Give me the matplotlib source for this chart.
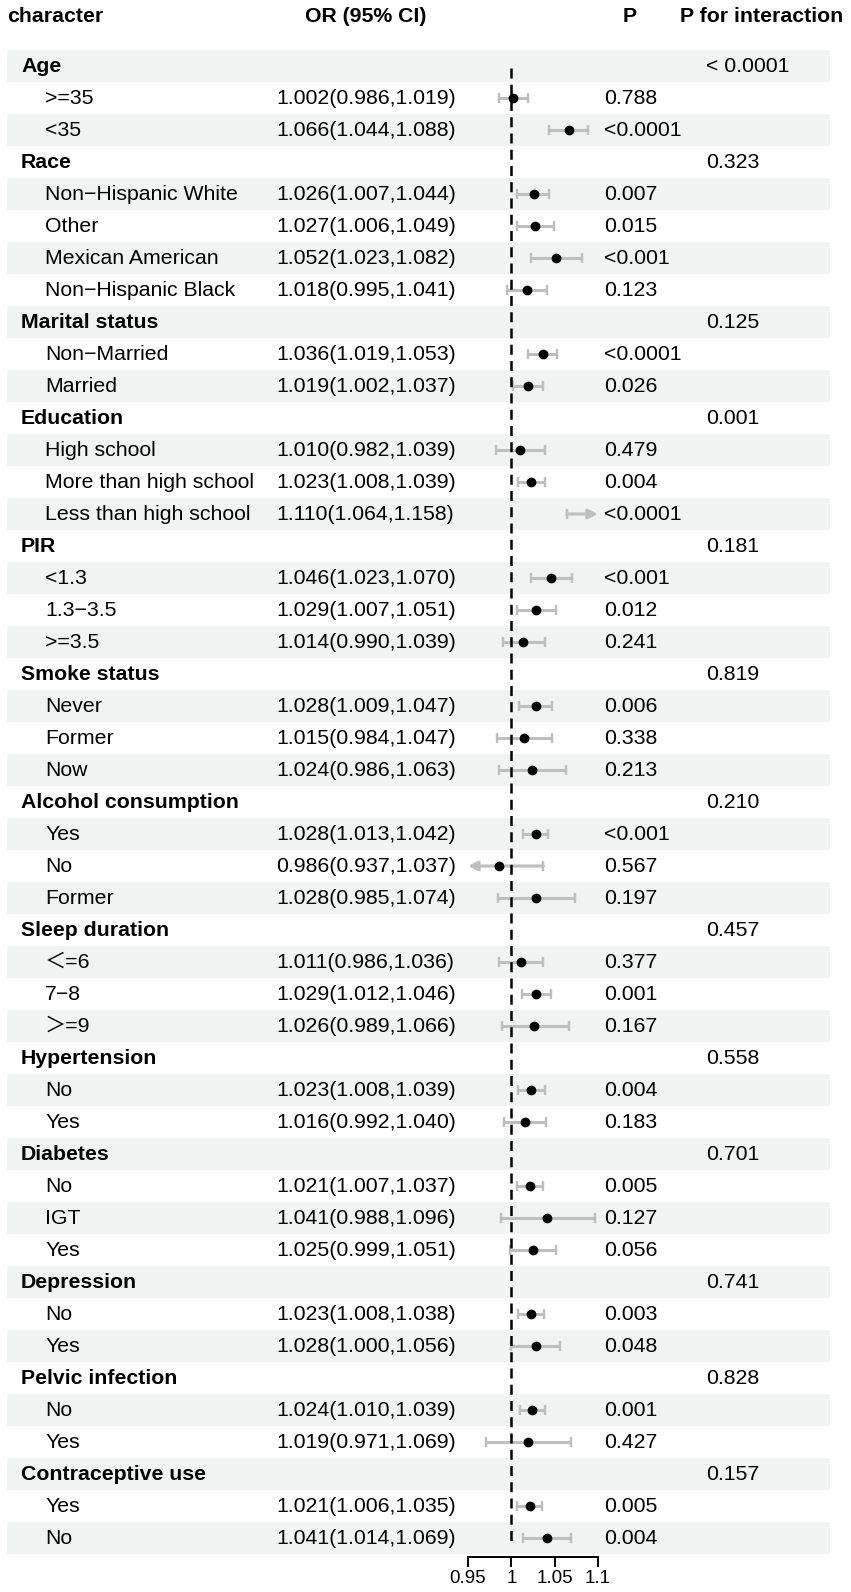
import numpy as np
import matplotlib
matplotlib.use("Agg")
import matplotlib.pyplot as plt
from matplotlib.patches import Rectangle
from matplotlib.transforms import blended_transform_factory

plt.rcParams['font.family'] = ['Liberation Sans', 'Noto Sans CJK SC', 'DejaVu Sans']
plt.rcParams['axes.unicode_minus'] = True

nan = np.nan

# --- data (one entry per table row, group rows have no estimate) ---
row_labels = ["Age", ">=35", "<35",
              "Race", "Non−Hispanic White", "Other", "Mexican American", "Non−Hispanic Black",
              "Marital status", "Non−Married", "Married",
              "Education", "High school", "More than high school", "Less than high school",
              "PIR", "<1.3", "1.3−3.5", ">=3.5",
              "Smoke status", "Never", "Former", "Now",
              "Alcohol consumption", "Yes", "No", "Former",
              "Sleep duration", "＜=6", "7−8", "＞=9",
              "Hypertension", "No", "Yes",
              "Diabetes", "No", "IGT", "Yes",
              "Depression", "No", "Yes",
              "Pelvic infection", "No", "Yes",
              "Contraceptive use", "Yes", "No"]

or_est = [nan, 1.002, 1.066,
          nan, 1.026, 1.027, 1.052, 1.018,
          nan, 1.036, 1.019,
          nan, 1.010, 1.023, 1.110,
          nan, 1.046, 1.029, 1.014,
          nan, 1.028, 1.015, 1.024,
          nan, 1.028, 0.986, 1.028,
          nan, 1.011, 1.029, 1.026,
          nan, 1.023, 1.016,
          nan, 1.021, 1.041, 1.025,
          nan, 1.023, 1.028,
          nan, 1.024, 1.019,
          nan, 1.021, 1.041]

ci_low = [nan, 0.986, 1.044,
          nan, 1.007, 1.006, 1.023, 0.995,
          nan, 1.019, 1.002,
          nan, 0.982, 1.008, 1.064,
          nan, 1.023, 1.007, 0.990,
          nan, 1.009, 0.984, 0.986,
          nan, 1.013, 0.937, 0.985,
          nan, 0.986, 1.012, 0.989,
          nan, 1.008, 0.992,
          nan, 1.007, 0.988, 0.999,
          nan, 1.008, 1.000,
          nan, 1.010, 0.971,
          nan, 1.006, 1.014]

ci_high = [nan, 1.019, 1.088,
           nan, 1.044, 1.049, 1.082, 1.041,
           nan, 1.053, 1.037,
           nan, 1.039, 1.039, 1.158,
           nan, 1.070, 1.051, 1.039,
           nan, 1.047, 1.047, 1.063,
           nan, 1.042, 1.037, 1.074,
           nan, 1.036, 1.046, 1.066,
           nan, 1.039, 1.040,
           nan, 1.037, 1.096, 1.051,
           nan, 1.038, 1.056,
           nan, 1.039, 1.069,
           nan, 1.035, 1.069]

p_value = ["", "0.788", "<0.0001",
           "", "0.007", "0.015", "<0.001", "0.123",
           "", "<0.0001", "0.026",
           "", "0.479", "0.004", "<0.0001",
           "", "<0.001", "0.012", "0.241",
           "", "0.006", "0.338", "0.213",
           "", "<0.001", "0.567", "0.197",
           "", "0.377", "0.001", "0.167",
           "", "0.004", "0.183",
           "", "0.005", "0.127", "0.056",
           "", "0.003", "0.048",
           "", "0.001", "0.427",
           "", "0.005", "0.004"]

p_interaction = ["< 0.0001", "", "",
                 "0.323", "", "", "", "",
                 "0.125", "", "",
                 "0.001", "", "", "",
                 "0.181", "", "", "",
                 "0.819", "", "", "",
                 "0.210", "", "", "",
                 "0.457", "", "", "",
                 "0.558", "", "",
                 "0.701", "", "", "",
                 "0.741", "", "",
                 "0.828", "", "",
                 "0.157", "", ""]

x_ticks = [0.95, 1, 1.05, 1.1]
x_lim = (0.95, 1.1)
ref_value = 1

# --- layout (pixels of the 851 x 1592 figure) ---
W, H = 851, 1592
FS = 15.3
BAR_GREY = "#BEBEBE"
BAND = "#EFF3F2"

est = np.array(or_est)
lo = np.array(ci_low)
hi = np.array(ci_high)
n_rows = len(row_labels)
ys = np.arange(n_rows)

fig = plt.figure(figsize=(W / 100, H / 100), dpi=100)
row_top, row_bot = 50, 1554
ax = fig.add_axes([468 / W, (H - row_bot) / H, (598 - 468) / W, (row_bot - row_top) / H])
ax.set_xlim(*x_lim)
ax.set_ylim(n_rows - 0.5, -0.5)
ax.patch.set_visible(False)

trans = blended_transform_factory(fig.transFigure, ax.transData)

# alternating row bands
for i in ys:
    if i % 2 == 0:
        ax.add_patch(Rectangle((7 / W, i - 0.5), (830 - 7) / W, 1, transform=trans,
                               facecolor=BAND, edgecolor="none", zorder=0, clip_on=False))

# table text
for i in ys:
    group = np.isnan(est[i])
    if group:
        ax.text(21 / W, i, row_labels[i], transform=trans, fontsize=FS, fontweight="bold",
                va="center", ha="left")
        ax.text(706 / W, i, p_interaction[i], transform=trans, fontsize=FS, va="center", ha="left")
    else:
        ax.text(45 / W, i, row_labels[i], transform=trans, fontsize=FS, va="center", ha="left")
        ax.text(276 / W, i, f"{est[i]:.3f}({lo[i]:.3f},{hi[i]:.3f})", transform=trans,
                fontsize=FS, va="center", ha="left")
        ax.text(604 / W, i, p_value[i], transform=trans, fontsize=FS, va="center", ha="left")

# header
hy = 1 - 17 / H
fig.text(7 / W, hy, "character", fontsize=FS, fontweight="bold", va="center", ha="left")
fig.text(366 / W, hy, "OR (95% CI)", fontsize=FS, fontweight="bold", va="center", ha="center")
fig.text(630 / W, hy, "P", fontsize=FS, fontweight="bold", va="center", ha="center")
fig.text(762 / W, hy, "P for interaction", fontsize=FS, fontweight="bold", va="center", ha="center")

# confidence intervals
cap = 0.17
lw_bar = 2.2
for i in ys:
    if np.isnan(est[i]):
        continue
    l = max(lo[i], x_lim[0])
    h = min(hi[i], x_lim[1])
    if lo[i] < x_lim[0]:
        ax.annotate("", xy=(l, i), xytext=(h, i),
                    arrowprops=dict(arrowstyle="-|>", color=BAR_GREY, lw=lw_bar,
                                    mutation_scale=14, shrinkA=0, shrinkB=0),
                    annotation_clip=False, zorder=2)
    elif hi[i] > x_lim[1]:
        ax.annotate("", xy=(h, i), xytext=(l, i),
                    arrowprops=dict(arrowstyle="-|>", color=BAR_GREY, lw=lw_bar,
                                    mutation_scale=14, shrinkA=0, shrinkB=0),
                    annotation_clip=False, zorder=2)
    else:
        ax.hlines(i, l, h, color=BAR_GREY, lw=lw_bar, zorder=2, clip_on=False)
    if lo[i] >= x_lim[0]:
        ax.vlines(l, i - cap, i + cap, color=BAR_GREY, lw=lw_bar * 0.8, zorder=2, clip_on=False)
    if hi[i] <= x_lim[1]:
        ax.vlines(h, i - cap, i + cap, color=BAR_GREY, lw=lw_bar * 0.8, zorder=2, clip_on=False)

# reference line
ax.vlines(ref_value, 0.05, n_rows - 0.85, colors="black", lw=1.8,
          linestyles=(0, (4, 2.5)), zorder=3, clip_on=False)

# point estimates (only inside the axis range)
inside = (est >= x_lim[0]) & (est <= x_lim[1])
ax.scatter(est[inside], ys[inside], s=36, color="black", zorder=4, clip_on=False)

# axis
for s in ["top", "left", "right"]:
    ax.spines[s].set_visible(False)
ax.spines["bottom"].set_linewidth(1.4)
ax.spines["bottom"].set_position(("outward", 2))
ax.set_yticks([])
ax.set_xticks(x_ticks)
ax.set_xticklabels(["0.95", "1", "1.05", "1.1"])
ax.tick_params(axis="x", direction="out", length=7.5, width=1.4, labelsize=13.5, pad=2)

fig.savefig("out.png", dpi=100)
